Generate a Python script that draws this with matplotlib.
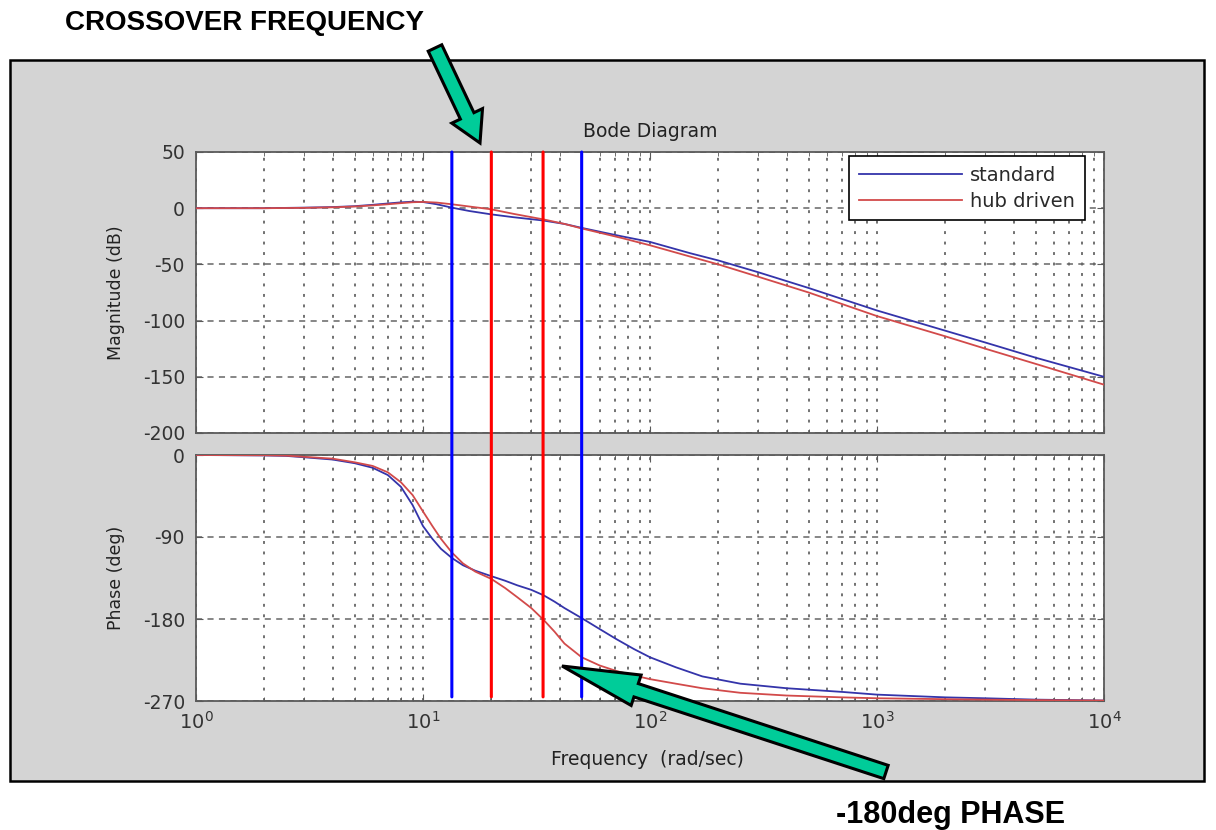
import matplotlib
matplotlib.use("Agg")
import matplotlib.pyplot as plt
import numpy as np
from matplotlib.patches import Rectangle, FancyArrow, ConnectionPatch
from matplotlib.transforms import Affine2D

# ---- data -------------------------------------------------------------
freq_mag = [1, 2, 3, 4, 5, 6, 7, 8, 9, 10, 11.5, 13.4, 16, 20, 25, 34, 42, 50,
            62, 75, 100, 150, 200, 300, 500, 1000, 2000, 3000, 5000, 10000]
mag_standard = [0, 0, 0.5, 1, 1.8, 3, 4.2, 5.2, 5.8, 5.5, 3.5, 0.5, -2.5, -5.5,
                -8, -11, -14, -17.5, -21.5, -25, -30, -40, -46.5, -57, -71,
                -91, -109, -119.5, -133, -150]
mag_hub = [0, 0, 0.3, 0.8, 1.5, 2.5, 3.5, 4.5, 5.3, 5.6, 5, 3.5, 1.5, -1, -5,
           -10, -14, -18, -22.5, -26.5, -33, -43, -50, -61, -75, -96, -114,
           -125, -138.5, -157]

freq_phase = [1, 2, 2.5, 3, 4, 5, 6, 7, 8, 9, 10, 11, 12, 13.4, 15, 17, 20, 23,
              26, 30, 34, 38, 42, 50, 60, 71, 85, 100, 130, 170, 250, 400, 700,
              1000, 2000, 3000, 5000, 10000]
phase_standard = [0, -0.5, -1, -2.5, -5, -9, -14, -22, -35, -55, -78, -92,
                  -103, -113, -121, -127, -133, -138, -143, -148, -154, -161,
                  -168, -179, -191, -202, -213, -222, -233, -243, -251, -256,
                  -260, -263, -266, -267, -268.5, -269.5]
phase_hub = [0, -0.3, -0.7, -2, -4, -8, -12, -19, -30, -44, -62, -78, -92,
             -107, -119, -128, -136, -146, -156, -168, -181, -194, -207, -222,
             -231, -237, -242, -246, -251, -256, -261, -264, -266, -267,
             -268, -268.5, -269, -269.5]

series_labels = ["standard", "hub driven"]

# frequencies of the marker lines (rad/sec)
crossover_standard = 13.4
crossover_hub = 20.0
phase180_hub = 33.8
phase180_standard = 50.0

mag_ticks = [50, 0, -50, -100, -150, -200]
phase_ticks = [0, -90, -180, -270]

# ---- style ------------------------------------------------------------
plt.rcParams["font.family"] = ["DejaVu Sans"]
plt.rcParams["mathtext.default"] = "regular"
plt.rcParams["axes.unicode_minus"] = False

W, H = 1216, 830
fig = plt.figure(figsize=(W / 100, H / 100), dpi=100)
fig.patch.set_facecolor("white")

# pixel coordinates measured from the top-left corner
px = Affine2D().scale(1 / W, -1 / H).translate(0, 1) + fig.transFigure

panel = Rectangle((10, 60), 1194, 721, transform=px, facecolor="#d4d4d4",
                  edgecolor="black", linewidth=1.8, zorder=-10)
fig.patches.append(panel)

ax_mag = fig.add_axes([196 / W, 1 - 433 / H, 908 / W, 281 / H])
ax_ph = fig.add_axes([196 / W, 1 - 701 / H, 908 / W, 246 / H])

blue_curve = "#3434aa"
red_curve = "#d24a4a"
tick_color = "#333333"
grid_color = "#666666"

for ax in (ax_mag, ax_ph):
    ax.set_facecolor("white")
    ax.set_xscale("log")
    ax.set_xlim(1, 1e4)
    for s in ax.spines.values():
        s.set_color("#5a5a5a")
        s.set_linewidth(1.3)
    ax.tick_params(which="both", direction="in", top=True, right=True,
                   color="#5a5a5a", labelcolor=tick_color, labelsize=13.5)
    ax.tick_params(which="major", length=5, pad=8)
    ax.tick_params(which="minor", length=3)
    ax.grid(True, axis="x", which="both", color=grid_color,
            linestyle=(0, (1.6, 4.2)), linewidth=1.3)
    ax.grid(True, axis="y", which="major", color=grid_color,
            linestyle=(0, (4, 3.5)), linewidth=1.1)
    ax.set_axisbelow(True)

l1, = ax_mag.plot(freq_mag, mag_standard, color=blue_curve, lw=1.3,
                  label=series_labels[0], zorder=3)
l2, = ax_mag.plot(freq_mag, mag_hub, color=red_curve, lw=1.3,
                  label=series_labels[1], zorder=3)
ax_mag.set_ylim(-200, 50)
ax_mag.set_yticks(mag_ticks)
ax_mag.tick_params(axis="x", labelbottom=False)
ax_mag.set_ylabel("Magnitude (dB)", fontsize=12.5, color="#222222")
ax_mag.yaxis.set_label_coords(-0.078, 0.5)
ax_mag.set_title("Bode Diagram", fontsize=13.5, color="#222222", pad=11)

ax_ph.plot(freq_phase, phase_standard, color=blue_curve, lw=1.3, zorder=3)
ax_ph.plot(freq_phase, phase_hub, color=red_curve, lw=1.3, zorder=3)
ax_ph.set_ylim(-270, 0)
ax_ph.set_yticks(phase_ticks)
ax_ph.set_ylabel("Phase (deg)", fontsize=12.5, color="#222222")
ax_ph.yaxis.set_label_coords(-0.078, 0.5)
ax_ph.set_xlabel("Frequency  (rad/sec)", fontsize=13.5, color="#222222")
ax_ph.xaxis.set_label_coords(0.497, -0.2)
ax_ph.tick_params(axis="x", which="major", labelsize=14, pad=7)

leg = ax_mag.legend(handles=[l1, l2], loc="upper right",
                    bbox_to_anchor=(0.979, 0.985), fontsize=14,
                    handlelength=5.3, handletextpad=0.45, borderpad=0.5,
                    labelspacing=0.35, fancybox=False, framealpha=1,
                    edgecolor="black", borderaxespad=0)
leg.get_frame().set_linewidth(1.2)
for t in leg.get_texts():
    t.set_color("#2a2a2a")

# vertical marker lines spanning both panels
for f, c in [(crossover_standard, "#0000ff"), (crossover_hub, "#ff0000"),
             (phase180_hub, "#ff0000"), (phase180_standard, "#0000ff")]:
    con = ConnectionPatch(xyA=(f, 50), coordsA=ax_mag.transData,
                          xyB=(f, -265.5), coordsB=ax_ph.transData,
                          color=c, linewidth=2.2, zorder=10)
    fig.add_artist(con)

# annotation arrows and captions
arrow_kw = dict(length_includes_head=True, transform=px, facecolor="#00cc99",
                edgecolor="black", linewidth=2.2, zorder=20)
fig.add_artist(FancyArrow(435, 48, 45, 95, width=15, head_width=34,
                          head_length=30, **arrow_kw))
fig.add_artist(FancyArrow(886, 772, -324, -106, width=14, head_width=32,
                          head_length=78, **arrow_kw))

fig.text(65 / W, 1 - 23 / H, "CROSSOVER FREQUENCY", fontsize=20,
         fontweight="bold", family=["Liberation Sans"], va="center",
         ha="left", color="black")
fig.text(836 / W, 1 - 815 / H, "-180deg PHASE", fontsize=22,
         fontweight="bold", family=["Liberation Sans"], va="center",
         ha="left", color="black")

fig.savefig("out.png", dpi=100, facecolor="white")
